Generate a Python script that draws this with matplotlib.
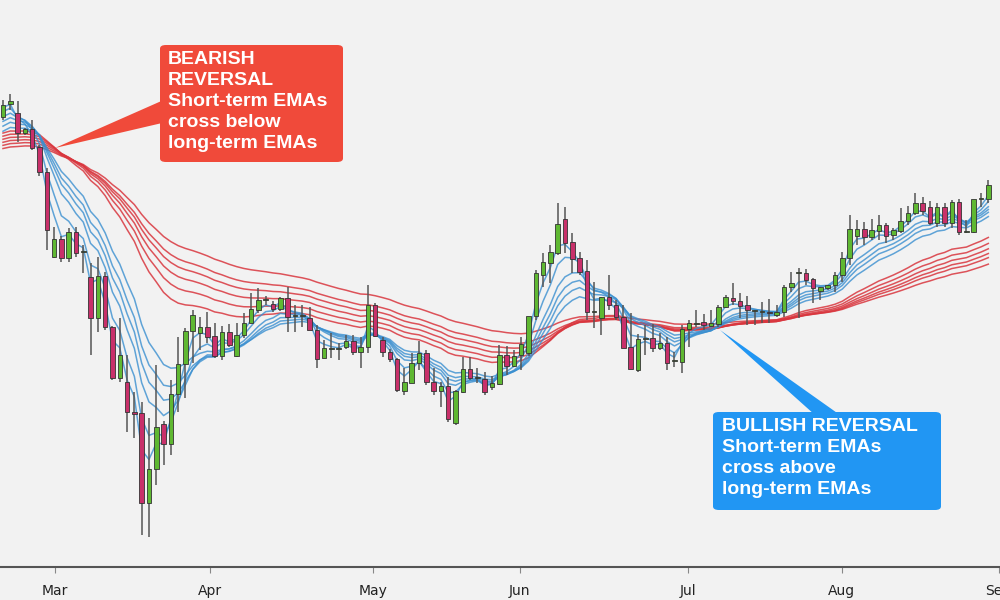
import matplotlib
matplotlib.use("Agg")
import matplotlib.pyplot as plt
from matplotlib.patches import Rectangle, FancyBboxPatch, Polygon
import numpy as np

# OHLC (price units = 600 - pixel y)
ys_open  = [117,104,113,133,129,147,172,257,239,258,232,252,277,318,276,327,378,382,412,413,503,469,424,444,394,364,331,333,327,336,356,332,356,335,323,310,300,304,309,298,316,316,318,330,358,349,349,347,341,352,347,305,340,352,359,391,383,363,353,382,391,386,423,392,369,378,379,387,384,355,366,355,353,316,275,263,253,219,242,258,271,312,318,297,305,317,347,370,339,338,348,343,361,362,329,324,322,326,324,307,298,301,305,311,312,312,315,312,287,273,273,279,291,288,285,275,258,236,229,237,231,225,235,231,221,213,203,207,223,207,223,202,232,232,199,199]
ys_close = [105,101,133,129,148,172,230,239,258,232,253,252,318,276,327,378,355,412,414,503,469,427,444,394,364,331,315,327,337,356,332,345,335,323,309,300,300,309,298,317,316,316,330,359,348,349,349,341,352,347,305,336,352,359,390,382,363,353,382,391,386,419,391,369,378,378,392,383,355,366,356,344,316,273,262,252,224,243,259,272,312,312,297,305,317,348,369,339,339,348,343,363,361,329,323,324,325,323,307,297,301,306,310,311,312,313,312,287,283,273,280,288,287,285,275,258,229,229,237,230,225,236,230,221,213,203,211,223,207,223,202,232,232,199,199,185]
ys_high  = [100,94,101,128,120,145,168,227,236,228,227,245,263,257,272,326,318,355,392,402,418,365,421,380,337,328,310,317,312,323,326,324,323,313,293,288,296,301,297,287,305,305,307,325,340,333,343,335,335,337,285,303,337,349,358,368,353,341,350,368,382,377,390,357,357,368,372,376,345,346,350,337,340,270,253,245,203,207,233,252,260,282,297,275,300,305,313,334,325,324,333,337,352,325,320,310,314,310,305,295,283,293,296,310,302,299,305,285,272,268,269,278,287,285,272,252,215,220,222,219,215,223,228,208,206,193,197,201,203,203,200,199,220,200,193,180]
ys_low   = [120,110,142,135,150,176,250,258,262,262,257,273,355,332,330,380,382,432,438,535,537,485,465,455,412,398,363,350,343,358,360,347,357,338,322,313,305,312,311,332,332,327,330,368,357,358,360,349,355,368,353,337,357,362,392,395,383,370,385,395,407,422,425,393,380,383,395,390,385,375,367,370,356,320,287,283,255,253,273,275,320,328,335,310,320,325,358,372,355,352,350,370,367,373,347,327,330,327,327,308,305,318,325,325,323,323,317,317,292,318,285,303,300,290,292,282,265,245,245,240,240,243,240,233,225,215,215,225,227,227,228,235,233,233,207,203]

# EMA periods and their starting levels read from the left edge (price units)
short_periods = [3, 5, 8, 10, 12, 15]
long_periods = [30, 35, 40, 45, 50, 60]
short_start = [490, 485, 480, 475, 470, 465]
long_start = [465, 462, 459, 456, 453, 450]

month_labels = ["Mar", "Apr", "May", "Jun", "Jul", "Aug", "Sep"]
month_pos = [7.1, 28.4, 50.7, 70.8, 93.8, 114.9, 136.4]

o = 600 - np.array(ys_open, float)
c = 600 - np.array(ys_close, float)
h = 600 - np.array(ys_high, float)
l = 600 - np.array(ys_low, float)
n = len(c)
idx = np.arange(n)

def ema(series, period, start):
    a = 2.0 / (period + 1)
    out = np.empty(len(series))
    prev = start
    for i, v in enumerate(series):
        prev = prev + a * (v - prev)
        out[i] = prev
    return out

bg = "#f2f2f2"
fig = plt.figure(figsize=(10, 6), dpi=100, facecolor=bg)
ax = fig.add_axes([0, 33 / 600, 1, 1 - 33 / 600], facecolor=bg)

for p, s in zip(long_periods, long_start):
    ax.plot(idx, ema(c, p, s), color="#d9363e", lw=1.1, alpha=0.85, zorder=2)
for p, s in zip(short_periods, short_start):
    ax.plot(idx, ema(c, p, s), color="#3a8fd0", lw=1.1, alpha=0.8, zorder=2)

w = 0.62
for i in range(n):
    up = c[i] >= o[i]
    col = "#5fb832" if up else "#c8306a"
    ax.vlines(i, l[i], h[i], color="#555555", lw=1.1, zorder=3)
    lo, hi = min(o[i], c[i]), max(o[i], c[i])
    ax.add_patch(Rectangle((i - w / 2, lo), w, max(hi - lo, 1.2), facecolor=col,
                           edgecolor="#333333", lw=0.6, zorder=4))

ax.set_xlim(-0.41, 136.6)
ax.set_ylim(33, 600)
ax.set_yticks([])
ax.set_xticks(month_pos)
ax.set_xticklabels(month_labels, fontsize=10, color="#222222", family="DejaVu Sans")
ax.tick_params(axis="x", length=4, color="#888888", pad=8)
for sp in ["top", "right", "left"]:
    ax.spines[sp].set_visible(False)
ax.spines["bottom"].set_color("#555555")
ax.spines["bottom"].set_linewidth(1.5)

def fx(x): return x / 1000
def fy(y): return 1 - y / 600

# Bearish callout
fig.patches.append(Polygon([(fx(55), fy(148)), (fx(175), fy(95)), (fx(175), fy(120))],
                           closed=True, transform=fig.transFigure, facecolor="#f04a3a", edgecolor="none"))
fig.patches.append(FancyBboxPatch((fx(160), fy(162)), fx(183), 117 / 600, boxstyle="round,pad=0,rounding_size=0.006",
                                  transform=fig.transFigure, facecolor="#f04a3a", edgecolor="none"))
fig.text(fx(168), fy(51), "BEARISH\nREVERSAL\nShort-term EMAs\ncross below\nlong-term EMAs",
         ha="left", va="top", color="white", fontsize=14, fontweight="bold",
         family="Liberation Sans", linespacing=1.3)

# Bullish callout
fig.patches.append(Polygon([(fx(720), fy(330)), (fx(815), fy(415)), (fx(840), fy(415))],
                           closed=True, transform=fig.transFigure, facecolor="#2196f3", edgecolor="none"))
fig.patches.append(FancyBboxPatch((fx(713), fy(510)), fx(228), 98 / 600, boxstyle="round,pad=0,rounding_size=0.006",
                                  transform=fig.transFigure, facecolor="#2196f3", edgecolor="none"))
fig.text(fx(722), fy(418), "BULLISH REVERSAL\nShort-term EMAs\ncross above\nlong-term EMAs",
         ha="left", va="top", color="white", fontsize=14, fontweight="bold",
         family="Liberation Sans", linespacing=1.3)

fig.savefig("out.png", dpi=100, facecolor=bg)
